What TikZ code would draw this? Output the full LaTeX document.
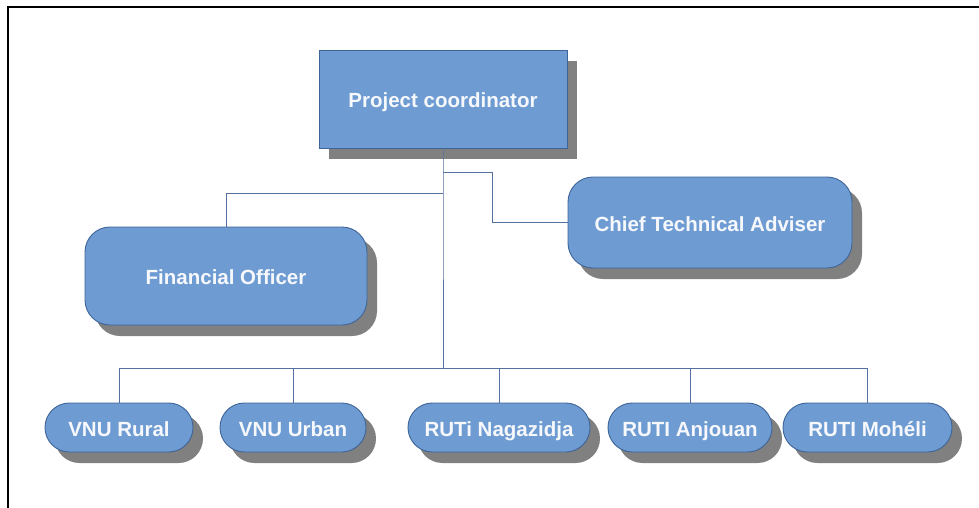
\documentclass[tikz,border=0pt]{standalone}
\usepackage{fontspec}
\newfontfamily\labfont{Liberation Sans}
\definecolor{boxfill}{RGB}{110,156,210}
\definecolor{boxedge}{RGB}{62,100,152}
\definecolor{shade}{RGB}{128,128,128}
\definecolor{conn}{RGB}{84,112,160}
\definecolor{labtext}{RGB}{246,248,252}
\tikzset{
  unit/.style={draw=boxedge, line width=0.9pt, fill=boxfill, text=labtext,
    font=\labfont\bfseries\fontsize{20.5}{24}\selectfont, inner sep=0pt,
    text height=17pt, text depth=0pt,
    preaction={draw=none, fill=shade, transform canvas={xshift=10pt, yshift=-11pt}}},
  square/.style={unit, rectangle},
  roundbox/.style={unit, rectangle, rounded corners=25pt},
  pill/.style={unit, rectangle, rounded corners=24.4pt, minimum height=49pt},
  link/.style={draw=conn, line width=0.9pt},
  frame/.style={draw=black, line width=2pt}
}
\begin{document}
\begin{tikzpicture}[x=1pt, y=-1pt]
\useasboundingbox (0,0) rectangle (979,508);
\draw[frame] (8,508) -- (8,7) -- (979,7);

\node[square, minimum width=248pt, minimum height=98pt] (pc) at (443,99) {Project coordinator};
\node[roundbox, minimum width=282pt, minimum height=98pt] (fo) at (226,276) {Financial Officer};
\node[roundbox, minimum width=284pt, minimum height=91pt] (cta) at (710,222.5) {Chief Technical Adviser};

\node[pill, minimum width=148pt] (rural) at (119,427.5) {VNU Rural};
\node[pill, minimum width=146pt] (urban) at (293,427.5) {VNU Urban};
\node[pill, minimum width=182pt] (naga) at (499,427.5) {RUTi Nagazidja};
\node[pill, minimum width=164pt] (anj) at (690,427.5) {RUTI Anjouan};
\node[pill, minimum width=169pt] (moh) at (867.5,427.5) {RUTI Mohéli};

\coordinate (j1) at (443,172);
\coordinate (j2) at (443,193);
\coordinate (bus) at (443,368);

\draw[link] (pc.south) -- (j2) -- (bus);
\draw[link] (j1) -| (492,222.5) -- (cta.west);
\draw[link] (j2) -| (fo.north);
\draw[link] (bus) -| (rural.north);
\draw[link] (bus) -| (urban.north);
\draw[link] (bus) -| (naga.north);
\draw[link] (bus) -| (anj.north);
\draw[link] (bus) -| (moh.north);
\end{tikzpicture}
\end{document}
